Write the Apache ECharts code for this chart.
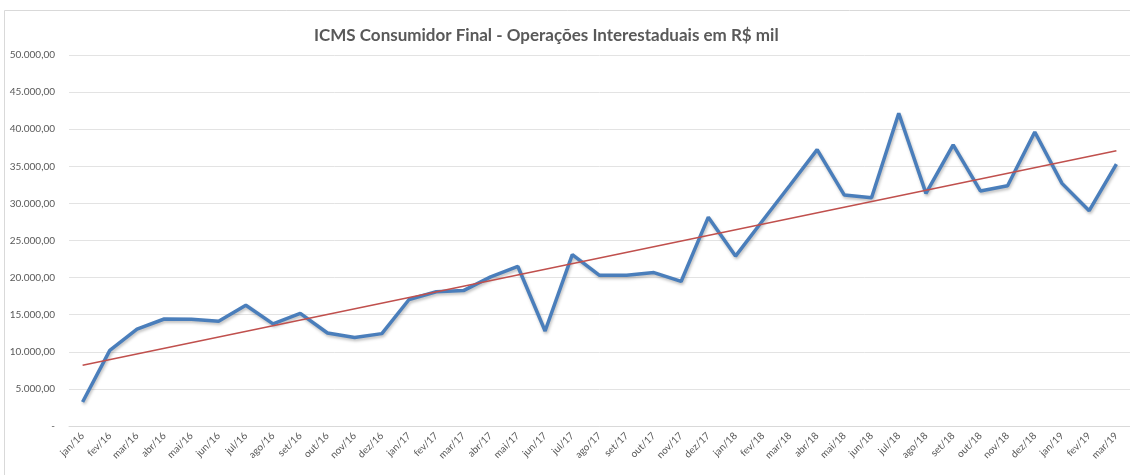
<!DOCTYPE html>
<html>
<head>
<meta charset="utf-8">
<script src="https://cdn.jsdelivr.net/npm/echarts@6/dist/echarts.min.js"></script>
<style>
  html, body { margin: 0; padding: 0; background: #fff; }
  #chart { width: 1130px; height: 475px; }
</style>
</head>
<body>
<div id="chart"></div>
<script>
const months = [
  'jan/16', 'fev/16', 'mar/16', 'abr/16', 'mai/16', 'jun/16', 'jul/16', 'ago/16', 'set/16', 'out/16', 'nov/16', 'dez/16',
  'jan/17', 'fev/17', 'mar/17', 'abr/17', 'mai/17', 'jun/17', 'jul/17', 'ago/17', 'set/17', 'out/17', 'nov/17', 'dez/17',
  'jan/18', 'fev/18', 'mar/18', 'abr/18', 'mai/18', 'jun/18', 'jul/18', 'ago/18', 'set/18', 'out/18', 'nov/18', 'dez/18',
  'jan/19', 'fev/19', 'mar/19',
]

// ICMS em R$ mil
const icms = [
  3240, 10200, 13050, 14420, 14380, 14130, 16280, 13760, 15170, 12540, 11930, 12450,
  17050, 18100, 18250, 20100, 21500, 12800, 23100, 20300, 20330, 20680, 19480, 28150,
  22900, 27700, 32450, 37250, 31120, 30750, 42150, 31350, 37880, 31680, 32380, 39620,
  32700, 29020, 35280,
]

// linha de tendência: extremos
const trendStart = 8190
const trendEnd = 37110

const yTicks = {min: 0, max: 50000, interval: 5000}

const trend = months.map((m, i) => (i === 0 ? trendStart : i === months.length - 1 ? trendEnd : null))

function fmtBR(v) {
  if (v === 0) return '-'
  const s = String(Math.round(v)).replace(/\B(?=(\d{3})+(?!\d))/g, '.')
  return s + ',00'
}

const chart = echarts.init(document.getElementById('chart'))
const textColor = '#595959'
const font = 'Lato'

const options = {
  animation: false,
  backgroundColor: '#fff',
  title: {
    text: 'ICMS Consumidor Final - Operações Interestaduais em R$ mil',
    left: 309,
    top: 22,
    textStyle: {
      color: textColor,
      fontFamily: font,
      fontSize: 17,
      fontWeight: 'bold',
    },
  },
  graphic: [
    {
      type: 'rect',
      shape: {x: 4.5, y: 10.5, width: 1140, height: 480},
      style: {fill: 'none', stroke: '#d9d9d9', lineWidth: 1},
      silent: true,
    },
  ],
  grid: {
    left: 69,
    top: 55,
    width: 1065,
    bottom: 49,
  },
  xAxis: {
    type: 'category',
    data: months,
    boundaryGap: true,
    axisLine: {lineStyle: {color: '#d9d9d9', width: 1}},
    axisTick: {show: false},
    axisLabel: {
      interval: 0,
      rotate: 45,
      color: textColor,
      fontFamily: font,
      fontSize: 10,
      margin: 8,
    },
  },
  yAxis: {
    type: 'value',
    min: yTicks.min,
    max: yTicks.max,
    interval: yTicks.interval,
    axisLine: {show: false},
    axisTick: {show: false},
    axisLabel: {
      color: textColor,
      fontFamily: font,
      fontSize: 10,
      margin: 14,
      formatter: fmtBR,
    },
    splitLine: {lineStyle: {color: '#e3e3e3', width: 1}},
  },
  series: [
    {
      name: 'ICMS',
      type: 'line',
      data: icms,
      symbol: 'none',
      lineStyle: {
        color: '#4a7ebb',
        width: 3.5,
        shadowColor: 'rgba(0, 0, 0, 0.25)',
        shadowBlur: 3,
        shadowOffsetX: 1,
        shadowOffsetY: 2,
      },
      z: 3,
    },
    {
      name: 'Tendência',
      type: 'line',
      data: trend,
      connectNulls: true,
      symbol: 'none',
      lineStyle: {color: '#c0504d', width: 1.5},
      z: 4,
    },
  ],
}
options && chart.setOption(options)
</script>
</body>
</html>
